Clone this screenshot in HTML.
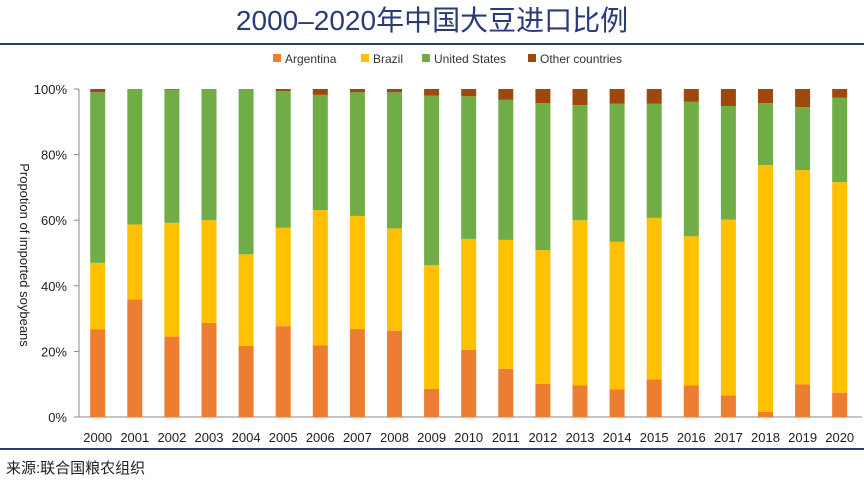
<!DOCTYPE html>
<html><head><meta charset="utf-8"><style>
body{margin:0;background:#fff;width:864px;height:483px;overflow:hidden;font-family:"Liberation Sans","Noto Sans CJK SC",sans-serif;}
</style></head><body>
<svg width="864" height="483" xmlns="http://www.w3.org/2000/svg">
<text x="432" y="30" text-anchor="middle" font-size="28" fill="#2b3a78" font-family="Liberation Sans,Noto Sans CJK SC,sans-serif">2000–2020年中国大豆进口比例</text>
<line x1="0" y1="44" x2="864" y2="44" stroke="#2b3a78" stroke-width="2"/>
<line x1="0" y1="449" x2="864" y2="449" stroke="#2b3a78" stroke-width="2"/>
<text x="6" y="473" font-size="15" fill="#222">来源:联合国粮农组织</text>
<g id="legend"></g>
<g id="axes"></g>
<g id="bars"></g>
<text transform="translate(20,255) rotate(90)" text-anchor="middle" font-size="13" fill="#222">Propotion of imported soybeans</text>
</svg>
<script>
const years=["2000","2001","2002","2003","2004","2005","2006","2007","2008","2009","2010","2011","2012","2013","2014","2015","2016","2017","2018","2019","2020"];
const argentina=[26.7,35.9,24.5,28.7,21.7,27.7,21.9,26.8,26.3,8.6,20.5,14.7,10.1,9.7,8.4,11.5,9.6,6.6,1.6,9.9,7.4];
const brazil=[20.3,22.8,34.7,31.3,27.9,30.0,41.2,34.5,31.2,37.7,33.8,39.3,40.8,50.3,45.0,49.2,45.5,53.6,75.2,65.4,64.2];
const unitedStates=[52.0,41.3,40.6,40.0,50.4,41.7,35.1,37.7,41.5,51.7,43.5,42.7,44.8,35.1,42.1,34.8,41.0,34.6,18.9,19.2,25.8];
const otherCountries=[1.0,0,0.2,0,0,0.6,1.8,1.0,1.0,2.0,2.2,3.3,4.3,4.9,4.5,4.5,3.9,5.2,4.3,5.5,2.6];
const yTicks=[0,20,40,60,80,100];
const series=[["Argentina",argentina,"#ed7d31"],["Brazil",brazil,"#ffc000"],["United States",unitedStates,"#70ad47"],["Other countries",otherCountries,"#9e480e"]];
const NS="http://www.w3.org/2000/svg";
const y0=417,y100=89,x0=97.7,step=37.1,bw=15;
const yS=v=>y0-(y0-y100)*v/100;
const xS=i=>x0+i*step;
function mk(t,a,p){const e=document.createElementNS(NS,t);for(const k in a)e.setAttribute(k,a[k]);p.appendChild(e);return e;}
const axes=document.getElementById('axes'),bars=document.getElementById('bars'),lg=document.getElementById('legend');
let l=mk('line',{x1:79,y1:y100,x2:79,y2:y0,stroke:'#888'},axes);


l=mk('line',{x1:79,y1:y0,x2:862,y2:y0,stroke:'#888'},axes);


yTicks.forEach(v=>{
 const t=mk('text',{x:67,y:yS(v)+5,'text-anchor':'end','font-size':13,fill:'#222'},axes);t.textContent=v+'%';
 
 
 const tk=mk('line',{x1:74,y1:yS(v),x2:79,y2:yS(v),stroke:'#888'},axes);
 
 
});
years.forEach((yr,i)=>{
 const t=mk('text',{x:xS(i),y:442,'text-anchor':'middle','font-size':13,fill:'#222'},axes);t.textContent=yr;
 
 
 let cum=0;
 series.forEach(s=>{
  const v=s[1][i];
  const r=mk('rect',{x:xS(i)-bw/2,y:yS(cum+v),width:bw,height:Math.max(0,yS(cum)-yS(cum+v)),fill:s[2]},bars);
  
  
  cum+=v;
 });
});
const lx=[273,361,422,528];
series.forEach((s,k)=>{
 const r=mk('rect',{x:lx[k],y:54,width:8,height:8,fill:s[2]},lg);
 
 
 const t=mk('text',{x:lx[k]+12,y:63,'font-size':12,fill:'#333'},lg);t.textContent=s[0];
 
 
});
</script>
</body></html>
